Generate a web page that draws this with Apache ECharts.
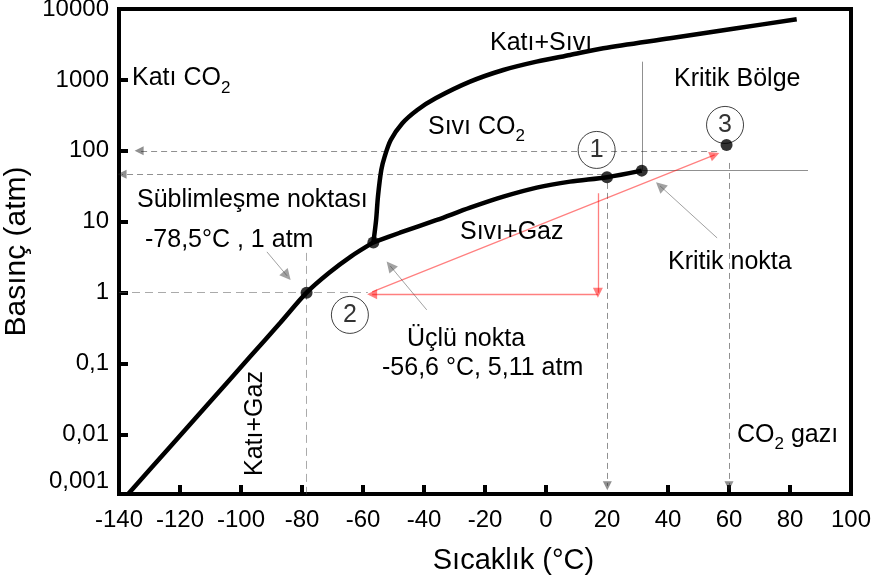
<!DOCTYPE html>
<html>
<head>
<meta charset="utf-8">
<script src="https://cdn.jsdelivr.net/npm/echarts@6/dist/echarts.min.js"></script>
<style>
  html, body { margin: 0; padding: 0; background: #fff; }
  #chart { width: 872px; height: 583px; }
</style>
</head>
<body>
<div id="chart"></div>
<script>
// CO2 faz diyagramı: sıcaklık (°C) – basınç (atm, logaritmik)

// Eksen değerleri ve etiketleri
const xTickValues = [-120, -100, -80, -60, -40, -20, 0, 40, 60, 80];
const yTickValues = [0.01, 0.1, 1, 10, 100, 1000];
const yLabelValues = [0.0022, 0.01, 0.1, 1, 10, 100, 1000, 10000];
const yLabelTexts = ['0,001', '0,01', '0,1', '1', '10', '100', '1000', '10000'];
const P_FLOOR = 0.00145;
const P_CEIL = 10000;

// Faz sınır eğrileri [°C, atm]
const sublimationCurve = [
  [-137.0, 0.00145], [-123.3, 0.00667], [-110.2, 0.0288], [-97.05, 0.1245],
  [-87.2, 0.373], [-78.5, 1.0], [-71.2, 1.89], [-63.9, 3.25], [-56.6, 5.11]
];
const vaporCurve = [
  [-56.6, 5.11], [-47.9, 7.0], [-35.8, 10.6], [-24.9, 15.8], [-14.0, 22.6],
  [-3.05, 30.3], [7.9, 36.8], [20, 42.5], [31.4, 52.6]
];
const meltingCurve = [
  [-56.6, 5.11], [-55.7, 10.6], [-55.1, 22.6], [-54.0, 53.8], [-52.9, 82.8],
  [-50.9, 142], [-47.1, 245], [-42.2, 377], [-36.2, 551], [-24.9, 945],
  [-14.0, 1380], [-3.1, 1810], [7.9, 2250], [18.8, 2790], [40.7, 3860],
  [62.5, 5350], [82.2, 7150]
];

// Önemli noktalar: süblimleşme, üçlü nokta, 1, kritik nokta, 3
const keyPoints = [[-78.5, 1], [-56.6, 5.11], [20, 42.5], [31.4, 52.6], [59.2, 121]];

// Numaralı durum işaretleri
const stateMarkers = [[16.6, 103], [-64.3, 0.486], [58.7, 232]];
const stateNames = ['1', '2', '3'];

// Kesikli okların uçları
const guideArrows = [
  [[56.1, 100], [-133.4, 100]],
  [[18.7, 46.8], [-139.0, 46.8]],
  [[20.1, 35.3], [20.1, 0.00189]],
  [[60.0, 67.5], [60.0, 0.00189]]
];
const guideLines = [
  [[-140, 1], [-58.4, 1]],
  [[-78.5, 3.64], [-78.5, P_FLOOR]]
];
const criticalLines = [
  [[31.6, 1808], [31.6, 52.6]],
  [[31.6, 52.6], [85.9, 52.6]]
];
const processPath = [
  [[17.0, 25.3], [17.0, 1.0]],
  [[17.0, 0.95], [-57.0, 0.95]],
  [[-57.0, 1.03], [55.3, 88]]
];
const pointers = [
  [[-91.5, 3.76], [-84.9, 1.73]],
  [[-39.1, 0.572], [-51.1, 2.39]],
  [[56.1, 5.92], [37.4, 32]]
];

const FONT = '"Liberation Sans", Arial, sans-serif';
const lg = Math.log10;
const toXY = ([x, p]) => [x, lg(p)];
const segs = list => list.map(seg => ({ coords: seg.map(toXY) }));

// Metin genişliği ölçümü (alt simgeler için)
const measureCtx = document.createElement('canvas').getContext('2d');
function textWidth(str, size) {
  measureCtx.font = size + 'px ' + FONT;
  return measureCtx.measureText(str).width;
}
function textEl(t, x, y, size, extra) {
  return Object.assign({
    type: 'text', x: x, y: y, silent: true, z: 20,
    style: {
      text: t, font: size + 'px ' + FONT, fill: '#000',
      textAlign: 'left', textVerticalAlign: 'middle',
      align: 'left', verticalAlign: 'middle'
    }
  }, extra || {});
}
function richLabel(parts, x, y, size) {
  const out = [];
  let cx = x;
  parts.forEach(([t, sub]) => {
    const fs = sub ? Math.round(size * 0.68) : size;
    out.push(textEl(t, cx, sub ? y + size * 0.38 : y, fs));
    cx += textWidth(t, fs);
  });
  return out;
}

const labels = [].concat(
  richLabel([['Katı CO'], ['2', true]], 132, 78.5, 25),
  richLabel([['Katı+Sıvı']], 490, 43, 25),
  richLabel([['Sıvı CO'], ['2', true]], 428, 127, 25),
  richLabel([['Kritik Bölge']], 674, 79.5, 25),
  richLabel([['Süblimleşme noktası']], 137, 200.5, 25),
  richLabel([['-78,5°C , 1 atm']], 145, 240, 25),
  richLabel([['Sıvı+Gaz']], 460, 232.5, 25),
  richLabel([['Kritik nokta']], 668, 262, 25),
  richLabel([['Üçlü nokta']], 407, 339.5, 25),
  richLabel([['-56,6 °C, 5,11 atm']], 382, 368, 25),
  richLabel([['CO'], ['2', true], [' gazı']], 737, 435, 25),
  [{
    type: 'text', x: 255, y: 423.5, rotation: Math.PI / 2, silent: true, z: 20,
    style: {
      text: 'Katı+Gaz', font: '25px ' + FONT, fill: '#000',
      textAlign: 'center', textVerticalAlign: 'middle',
      align: 'center', verticalAlign: 'middle'
    }
  }]
);

const curveStyle = { color: '#000', width: 4.5 };
function curveSeries(data) {
  return {
    type: 'line', data: data.map(toXY), showSymbol: false, smooth: 0.3,
    lineStyle: curveStyle, silent: true, z: 3
  };
}
function lineSeries(data, style, withArrow, size) {
  return {
    type: 'lines', coordinateSystem: 'cartesian2d', data: segs(data),
    lineStyle: style, symbol: withArrow ? ['none', 'triangle'] : ['none', 'none'],
    symbolSize: size || 9, silent: true, z: 2
  };
}

const chart = echarts.init(document.getElementById('chart'), null, { renderer: 'canvas' });
chart.setOption({
  animation: false,
  backgroundColor: '#fff',
  grid: {
    left: 119, top: 9, width: 732, height: 485,
    show: true, borderColor: '#000', borderWidth: 4,
    containLabel: false, outerBoundsMode: 'none'
  },
  xAxis: {
    type: 'value', min: -140, max: 100, interval: 20,
    axisLine: { show: true, onZero: false, lineStyle: { color: '#000', width: 4 } },
    axisTick: { show: true, inside: true, length: 9, lineStyle: { color: '#000', width: 4 }, customValues: xTickValues },
    axisLabel: { fontSize: 24, color: '#000', fontFamily: FONT, margin: 14 },
    splitLine: { show: false },
    name: 'Sıcaklık (°C)', nameLocation: 'middle', nameGap: 52,
    nameTextStyle: { fontSize: 29, color: '#000', fontFamily: FONT, padding: [0, 0, 0, 57] }
  },
  yAxis: {
    type: 'value', min: lg(P_FLOOR), max: lg(P_CEIL),
    axisLine: { show: true, onZero: false, lineStyle: { color: '#000', width: 4 } },
    axisTick: { show: true, inside: true, length: 9, lineStyle: { color: '#000', width: 4 }, customValues: yTickValues.map(lg) },
    axisLabel: {
      fontSize: 24, color: '#000', fontFamily: FONT, margin: 10,
      customValues: yLabelValues.map(lg),
      formatter: v => {
        let best = 0;
        yLabelValues.forEach((p, i) => {
          if (Math.abs(lg(p) - v) < Math.abs(lg(yLabelValues[best]) - v)) best = i;
        });
        return yLabelTexts[best];
      }
    },
    splitLine: { show: false },
    name: 'Basınç (atm)', nameLocation: 'middle', nameGap: 76,
    nameTextStyle: { fontSize: 30, color: '#000', fontFamily: FONT }
  },
  series: [
    curveSeries(sublimationCurve),
    curveSeries(vaporCurve),
    curveSeries(meltingCurve),
    lineSeries(guideArrows, { color: '#222', width: 1, type: [6, 4] }, true, 9),
    lineSeries(guideLines, { color: '#555', width: 1, type: [8, 5] }, false),
    lineSeries(criticalLines, { color: '#222', width: 1, type: 'solid' }, false),
    lineSeries(processPath, { color: '#ff0000', width: 1.3, type: 'solid' }, true, 10),
    lineSeries(pointers, { color: '#444', width: 1, type: 'solid' }, true, 11),
    {
      type: 'scatter', data: keyPoints.map(toXY), symbolSize: 12,
      itemStyle: { color: '#000' }, silent: true, z: 6
    },
    {
      type: 'scatter',
      data: stateMarkers.map((p, i) => ({ value: toXY(p), name: stateNames[i] })),
      symbolSize: 37,
      itemStyle: { color: 'rgba(0,0,0,0)', borderColor: '#111', borderWidth: 1 },
      label: { show: true, position: 'inside', formatter: '{b}', fontSize: 25, color: '#000', fontFamily: FONT },
      silent: true, z: 5
    }
  ],
  graphic: labels
});
</script>
</body>
</html>
